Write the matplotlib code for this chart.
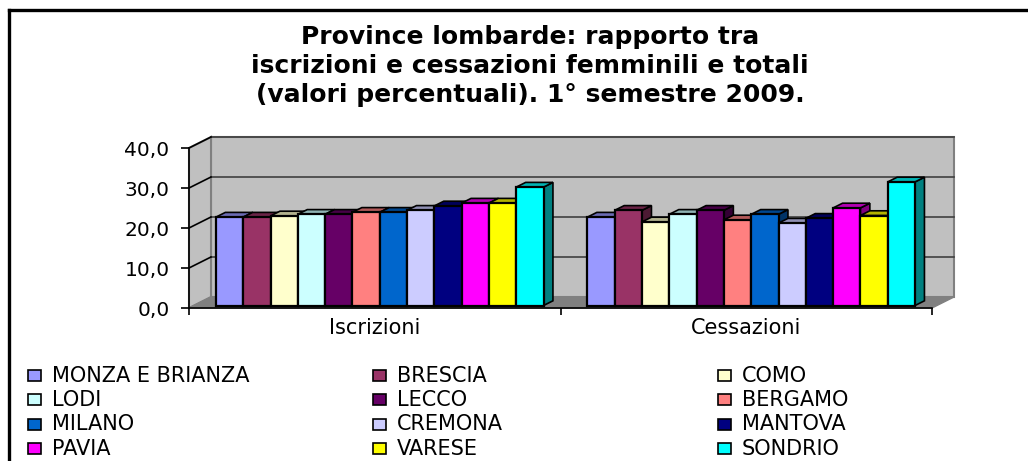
import matplotlib.pyplot as plt
from matplotlib.patches import Polygon, Rectangle
from matplotlib.lines import Line2D
import numpy as np

# dati
gruppi = ['Iscrizioni', 'Cessazioni']
province = ['MONZA E BRIANZA', 'BRESCIA', 'COMO', 'LODI', 'LECCO', 'BERGAMO',
            'MILANO', 'CREMONA', 'MANTOVA', 'PAVIA', 'VARESE', 'SONDRIO']
iscrizioni = [22.1, 22.1, 22.4, 22.8, 22.8, 23.3, 23.3, 23.8, 24.9, 25.6, 25.6, 29.6]
cessazioni = [22.1, 23.8, 20.9, 22.8, 23.8, 21.4, 22.8, 20.6, 21.8, 24.4, 22.5, 30.9]
colori = ['#9999FF', '#993366', '#FFFFCC', '#CCFFFF', '#660066', '#FF8080',
          '#0066CC', '#CCCCFF', '#000080', '#FF00FF', '#FFFF00', '#00FFFF']
yticks = [0, 10, 20, 30, 40]

W, H = 1028, 461
fig = plt.figure(figsize=(W / 100, H / 100), dpi=100)


def fx(px):
    return px / W


def fy(py):
    return 1 - py / H


# cornice esterna
fig.add_artist(Line2D([fx(9), fx(9)], [fy(10), 0], color='black', lw=2.4))
fig.add_artist(Line2D([fx(9), 1], [fy(10), fy(10)], color='black', lw=2.4))

fig.text(fx(530), fy(66), 'Province lombarde: rapporto tra\n'
         'iscrizioni e cessazioni femminili e totali\n'
         '(valori percentuali). 1° semestre 2009.',
         ha='center', va='center', fontsize=18, fontweight='bold',
         linespacing=1.25)

ax = fig.add_axes([fx(189), fy(308), fx(932) - fx(189), 160 / H])
ax.set_xlim(0, 2)
ax.set_ylim(0, 40)

# profondità del "3D"
dx, dy = 22 / 371.5, 11 / 4.0
ymax = 40

# pareti e pavimento
ax.add_patch(Polygon([(dx, dy), (2 + dx, dy), (2 + dx, ymax + dy), (dx, ymax + dy)],
                     closed=True, fc='#C0C0C0', ec='#808080', lw=1.5, clip_on=False, zorder=0))
ax.add_patch(Polygon([(0, 0), (dx, dy), (dx, ymax + dy), (0, ymax)],
                     closed=True, fc='#C0C0C0', ec='#808080', lw=1.5, clip_on=False, zorder=0))
ax.add_patch(Polygon([(0, 0), (2, 0), (2 + dx, dy), (dx, dy)],
                     closed=True, fc='#808080', ec='#808080', lw=1, clip_on=False, zorder=0.5))
for t in yticks[1:]:
    ax.plot([dx, 2 + dx], [t + dy, t + dy], color='#404040', lw=1.2, clip_on=False, zorder=0.6)
    ax.plot([0, dx], [t, t + dy], color='black', lw=1.2, clip_on=False, zorder=0.6)


def scuro(c, f):
    r, g, b = plt.matplotlib.colors.to_rgb(c)
    return (r * f, g * f, b * f)


w = 27.3 / 371.5
ox, y0 = 5 / 371.5, 2.5 / 4.0
bdx, bdy = 9.4 / 371.5, 4.7 / 4.0
z = 1
for g, valori in enumerate([iscrizioni, cessazioni]):
    start = g + (1 - len(valori) * w) / 2 + ox
    for i, v in enumerate(valori):
        xl = start + i * w
        top = y0 + v
        ax.add_patch(Polygon([(xl + w, y0), (xl + w + bdx, y0 + bdy), (xl + w + bdx, top + bdy), (xl + w, top)],
                             closed=True, fc=scuro(colori[i], 0.5), ec='black', lw=1.2,
                             clip_on=False, zorder=z))
        ax.add_patch(Polygon([(xl, top), (xl + w, top), (xl + w + bdx, top + bdy), (xl + bdx, top + bdy)],
                             closed=True, fc=scuro(colori[i], 0.7), ec='black', lw=1.2,
                             clip_on=False, zorder=z + 0.1))
        ax.add_patch(Rectangle((xl, y0), w, v, fc=colori[i], ec='black', lw=1.6,
                               clip_on=False, zorder=z + 0.2))
        z += 1

for s in ['top', 'right']:
    ax.spines[s].set_visible(False)
for s in ['left', 'bottom']:
    ax.spines[s].set_color('black')
    ax.spines[s].set_linewidth(1.2)
    ax.spines[s].set_zorder(50)
ax.set_facecolor('none')

ax.set_yticks(yticks)
ax.set_yticklabels([f'{t:.1f}'.replace('.', ',') for t in yticks], fontsize=14.5)
ax.tick_params(axis='y', direction='out', length=6, width=1.2, pad=8)
ax.set_xticks([0, 1, 2])
ax.set_xticklabels([])
ax.tick_params(axis='x', direction='out', length=5, width=1.2)
ax.set_xticks([0.5, 1.5], minor=True)
ax.set_xticklabels(gruppi, minor=True, fontsize=15)
ax.tick_params(axis='x', which='minor', length=0, pad=7)

# legenda disegnata a mano su 3 colonne
col_x = [28, 373, 718]
row_y = [375.5, 399.5, 424, 448.5]
for i, nome in enumerate(province):
    r, c = divmod(i, 3)
    fig.add_artist(Rectangle((fx(col_x[c]), fy(row_y[r] + 5.5)), fx(13), 11 / H,
                             fc=colori[i], ec='black', lw=1.2))
    fig.text(fx(col_x[c] + 24), fy(row_y[r]), nome, ha='left', va='center', fontsize=15)

fig.savefig('out.png', dpi=100)
